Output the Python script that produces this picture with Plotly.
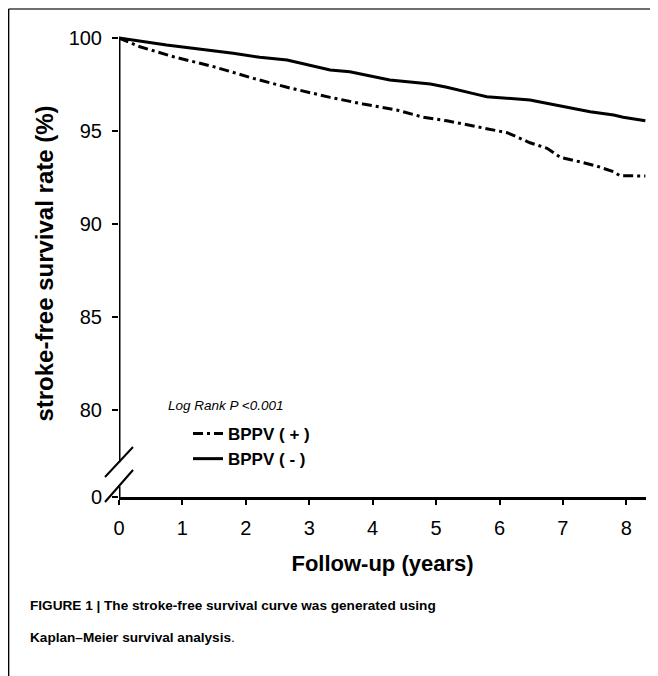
import plotly.graph_objects as go

# ---- data ----
neg_years = [0, 0.75, 1.8, 2.22, 2.65, 3.33, 3.64, 4.27, 4.91, 5.17, 5.64, 5.80,
             6.48, 7.11, 7.43, 7.80, 7.95, 8.30]
neg_surv = [100, 99.62, 99.18, 98.96, 98.82, 98.28, 98.19, 97.74, 97.53, 97.35,
            96.97, 96.84, 96.67, 96.27, 96.04, 95.86, 95.74, 95.55]

pos_years = [0, 0.33, 0.86, 1.49, 2.12, 2.65, 3.33, 3.85, 4.38, 4.80, 5.17, 5.59,
             5.80, 6.12, 6.27, 6.48, 6.75, 6.96, 7.32, 7.53, 7.80, 7.90, 8.30]
pos_surv = [100, 99.53, 98.99, 98.46, 97.83, 97.35, 96.81, 96.45, 96.13, 95.74,
            95.55, 95.28, 95.11, 94.91, 94.69, 94.37, 94.07, 93.59, 93.30, 93.12,
            92.81, 92.60, 92.58]

series_names = ["BPPV ( + )", "BPPV ( - )"]
x_ticks = [0, 1, 2, 3, 4, 5, 6, 7, 8]
y_break_value = 75.33          # position on the broken axis that stands for 0
y_tick_vals = [y_break_value, 80, 85, 90, 95, 100]
y_tick_text = ["0", "80", "85", "90", "95", "100"]

FONT = "Liberation Sans, Arial, sans-serif"

OFF = 8                        # page margin of the html body
W, H = 650, 668
ML, MR, MT, MB = 111, 12, 22, 179
PW, PH = W - ML - MR, H - MT - MB


def px(xs):
    """screen x -> paper x"""
    return (xs - OFF - ML) / PW


def py(ys):
    """screen y -> paper y"""
    return (H - MB - (ys - OFF)) / PH


fig = go.Figure()
fig.add_trace(go.Scatter(x=pos_years, y=pos_surv, mode="lines", name=series_names[0],
                         line=dict(color="black", width=3, dash="10px,4px,3px,4px")))
fig.add_trace(go.Scatter(x=neg_years, y=neg_surv, mode="lines", name=series_names[1],
                         line=dict(color="black", width=3)))

shapes = []
# broken y-axis line (two segments)
shapes.append(dict(type="line", xref="x", yref="y", x0=0, x1=0, y0=100, y1=77.2,
                   line=dict(color="black", width=3)))
shapes.append(dict(type="line", xref="x", yref="y", x0=0, x1=0, y0=75.9, y1=y_break_value,
                   line=dict(color="black", width=3)))
# break marks
shapes.append(dict(type="line", xref="paper", yref="paper", x0=px(105), y0=py(477),
                   x1=px(133), y1=py(447), line=dict(color="black", width=2)))
shapes.append(dict(type="line", xref="paper", yref="paper", x0=px(105), y0=py(502),
                   x1=px(133), y1=py(470), line=dict(color="black", width=2)))
# outer frame (top and left edges visible)
shapes.append(dict(type="line", xref="paper", yref="paper", x0=px(8.6), y0=py(9),
                   x1=px(700), y1=py(9), line=dict(color="#6e6e6e", width=2)))
shapes.append(dict(type="line", xref="paper", yref="paper", x0=px(8.6), y0=py(9),
                   x1=px(8.6), y1=py(720), line=dict(color="black", width=1.5)))

annotations = [
    dict(text="Log Rank P <0.001", xref="paper", yref="paper", x=px(166), y=py(405),
         xanchor="left", yanchor="middle", showarrow=False,
         font=dict(family=FONT, size=13.5, color="black", style="italic")),
    dict(text="<b>FIGURE 1 | The stroke-free survival curve was generated using</b>",
         xref="paper", yref="paper", x=px(28), y=py(605), xanchor="left", yanchor="middle",
         showarrow=False, font=dict(family=FONT, size=13.6, color="black")),
    dict(text="<b>Kaplan–Meier survival analysis</b>.",
         xref="paper", yref="paper", x=px(28), y=py(637), xanchor="left", yanchor="middle",
         showarrow=False, font=dict(family=FONT, size=13.6, color="black")),
]

fig.update_layout(
    width=W, height=H,
    margin=dict(l=ML, r=MR, t=MT, b=MB, autoexpand=False),
    paper_bgcolor="white", plot_bgcolor="white",
    font=dict(family=FONT, color="black"),
    showlegend=True,
    legend=dict(x=px(188), y=py(416), xanchor="left", yanchor="top",
                bgcolor="rgba(0,0,0,0)", font=dict(family=FONT, size=17, weight="bold"),
                tracegroupgap=0, itemclick=False),
    shapes=shapes,
    annotations=annotations,
    xaxis=dict(range=[0, 8.31], tickvals=x_ticks, ticks="outside", ticklen=5,
               tickwidth=1.5, tickcolor="black", showline=True, linewidth=3,
               linecolor="black", showgrid=False, zeroline=False,
               tickfont=dict(family=FONT, size=20), ticklabelstandoff=6,
               title=dict(text="<b>Follow-up (years)</b>", font=dict(family=FONT, size=22),
                          standoff=18)),
    yaxis=dict(range=[y_break_value, 100.43], tickvals=y_tick_vals, ticktext=y_tick_text,
               ticks="outside", ticklen=6, tickwidth=1.5, tickcolor="black",
               showline=False, showgrid=False, zeroline=False,
               tickfont=dict(family=FONT, size=20), ticklabelstandoff=6,
               title=dict(text="<b>stroke-free survival rate (%)</b>",
                          font=dict(family=FONT, size=24), standoff=8)),
)

fig.write_html("out.html")
